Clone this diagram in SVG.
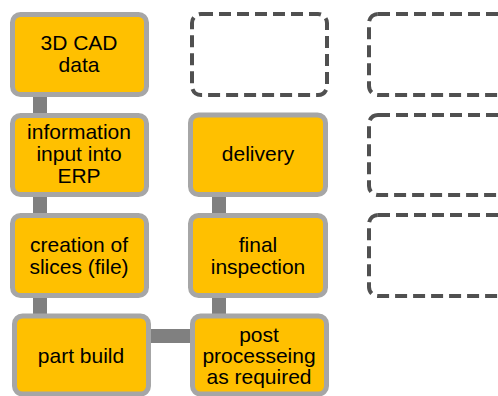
<svg xmlns="http://www.w3.org/2000/svg" width="498" height="396" viewBox="0 0 498 396">
<style>
.n{fill:#FFC000;stroke:#A6A6A6;stroke-width:5}
.d{fill:none;stroke:#505050;stroke-width:4;stroke-dasharray:12 6}
.c{fill:#808080}
text{font-family:"Liberation Sans",Arial,sans-serif;font-size:21px;fill:#000;text-anchor:middle}
</style>
<rect width="498" height="396" fill="#fff"/>
<g id="connectors">
<rect class="c" x="33" y="95" width="14" height="20"/>
<rect class="c" x="33" y="195" width="14" height="20"/>
<rect class="c" x="33" y="296" width="14" height="20"/>
<rect class="c" x="212" y="195" width="14" height="20"/>
<rect class="c" x="212" y="296" width="14" height="20"/>
<rect class="c" x="146" y="329" width="46" height="14"/>
</g>
<g id="n1"><rect class="n" x="12.5" y="14.5" width="134" height="80" rx="8"/><text x="79" y="50">3D CAD</text><text x="79" y="72">data</text></g>
<g id="n2"><rect class="n" x="12.5" y="115.5" width="134" height="79" rx="8"/><text x="79" y="139">information</text><text x="79" y="161">input into</text><text x="79" y="183">ERP</text></g>
<g id="n3"><rect class="n" x="12.5" y="215.5" width="134" height="80" rx="8"/><text x="79" y="252">creation of</text><text x="79" y="273.5">slices (file)</text></g>
<g id="n4"><rect class="n" x="14.5" y="316" width="134" height="78" rx="8"/><text x="81" y="363">part build</text></g>
<g id="n5"><rect class="d" x="192" y="14" width="135" height="81" rx="9"/></g>
<g id="n6"><rect class="n" x="190.5" y="115" width="135" height="79.5" rx="8"/><text x="258" y="161">delivery</text></g>
<g id="n7"><rect class="n" x="190.5" y="215.5" width="135" height="80" rx="8"/><text x="258" y="252">final</text><text x="258" y="273.5">inspection</text></g>
<g id="n8"><rect class="n" x="192.5" y="316" width="134" height="78" rx="8"/><text x="259" y="342">post</text><text x="259" y="363">processeing</text><text x="259" y="384">as required</text></g>
<g id="n9"><rect class="d" x="369" y="14" width="140" height="81" rx="9"/></g>
<g id="n10"><rect class="d" x="369" y="115" width="140" height="80" rx="9"/></g>
<g id="n11"><rect class="d" x="369" y="215" width="140" height="81" rx="9"/></g>
</svg>
